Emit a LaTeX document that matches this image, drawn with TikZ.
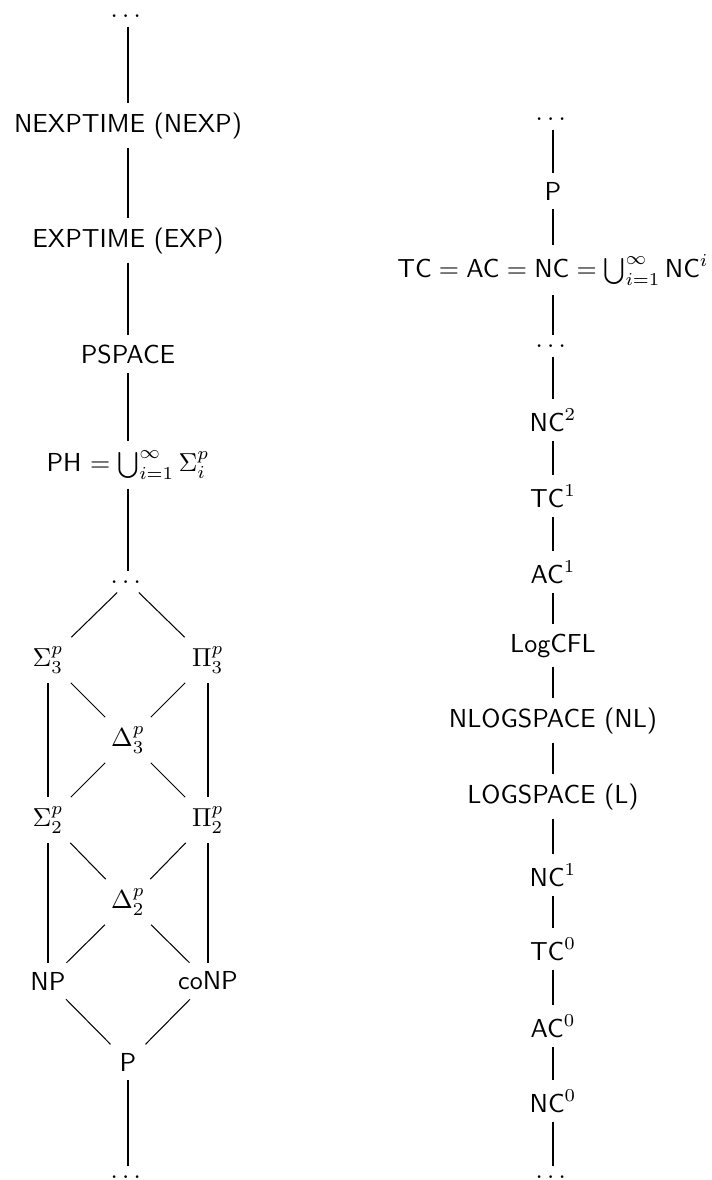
\documentclass[tikz,border=0pt]{standalone}
\usepackage{amsmath}
\begin{document}
\begin{tikzpicture}[x=0.3846pt,y=-0.3846pt,every node/.style={font=\sffamily}]
    \useasboundingbox (0,0) rectangle (712,1180);

    % Coluna da esquerda
    \node (topL) at (128,16) {$\dots$};
    \node (NEXP) at (128,125.5) {NEXPTIME (NEXP)};
    \node (EXP) at (128,240.5) {EXPTIME (EXP)};
    \node (PSPACE) at (128,354) {PSPACE};
    \node (PH) at (128,465) {PH $= \bigcup_{i=1}^{\infty} \Sigma_i^p$};
    \node (dotsL) at (128,582) {$\dots$};

    % Hierarquia polinomial
    \node (S3) at (48,660) {$\Sigma_3^p$};
    \node (P3) at (208,660) {$\Pi_3^p$};
    \node (D3) at (128,740) {$\Delta_3^p$};
    \node (S2) at (48,820) {$\Sigma_2^p$};
    \node (P2) at (208,820) {$\Pi_2^p$};
    \node (D2) at (128,902) {$\Delta_2^p$};
    \node (NP) at (48,981) {NP};
    \node (coNP) at (208,981) {coNP};
    \node (P) at (128,1062) {P};
    \node (botL) at (128,1177) {$\dots$};

    % Coluna da direita
    \node (topR) at (553,119) {$\dots$};
    \node (PR) at (553,191) {P};
    \node (NC) at (553,270) {$\mathsf{TC} = \mathsf{AC} = \mathsf{NC} = \bigcup_{i=1}^{\infty} \mathsf{NC}^i$};
    \node (dotsR) at (553,346) {$\dots$};
    \node (NC2) at (553,420) {$\mathsf{NC}^2$};
    \node (TC1) at (553,496) {$\mathsf{TC}^1$};
    \node (AC1) at (553,572) {$\mathsf{AC}^1$};
    \node (CFL) at (553,645.5) {LogCFL};
    \node (NL) at (553,720.5) {NLOGSPACE (NL)};
    \node (L) at (553,796.5) {LOGSPACE (L)};
    \node (NC1) at (553,875) {$\mathsf{NC}^1$};
    \node (TC0) at (553,949) {$\mathsf{TC}^0$};
    \node (AC0) at (553,1026) {$\mathsf{AC}^0$};
    \node (NC0) at (553,1101) {$\mathsf{NC}^0$};
    \node (botR) at (553,1177) {$\dots$};

    % Ligacoes
    \foreach \a/\b in {topL/NEXP, NEXP/EXP, EXP/PSPACE, PSPACE/PH, PH/dotsL,
        dotsL/S3, dotsL/P3, S3/D3, P3/D3, S3/S2, P3/P2, D3/S2, D3/P2,
        S2/D2, P2/D2, S2/NP, P2/coNP, D2/NP, D2/coNP, NP/P, coNP/P, P/botL}
        \draw (\a) -- (\b);
    \foreach \a/\b in {topR/PR, PR/NC, NC/dotsR, dotsR/NC2, NC2/TC1, TC1/AC1,
        AC1/CFL, CFL/NL, NL/L, L/NC1, NC1/TC0, TC0/AC0, AC0/NC0, NC0/botR}
        \draw (\a) -- (\b);

\end{tikzpicture}
\end{document}
